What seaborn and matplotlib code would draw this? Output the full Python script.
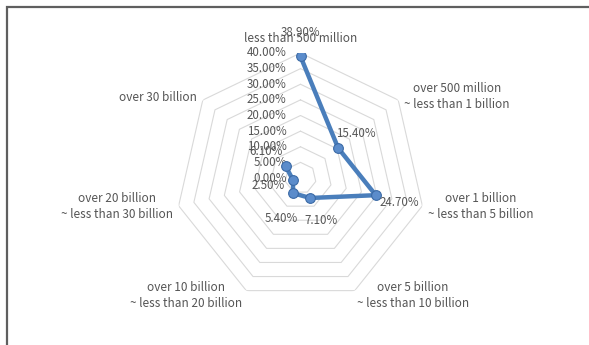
import numpy as np
import pandas as pd
import matplotlib
matplotlib.use("Agg")
import matplotlib.pyplot as plt
import seaborn as sns

# Data
categories = ["less than 500 million",
              "over 500 million\n~ less than 1 billion",
              "over 1 billion\n~ less than 5 billion",
              "over 5 billion\n~ less than 10 billion",
              "over 10 billion\n~ less than 20 billion",
              "over 20 billion\n~ less than 30 billion",
              "over 30 billion"]
shares = [38.9, 15.4, 24.7, 7.1, 5.4, 2.5, 6.1]
ring_levels = [0, 5, 10, 15, 20, 25, 30, 35, 40]

sns.set_theme(style="white")
plt.rcParams["font.family"] = ["Noto Sans CJK KR", "DejaVu Sans"]
text_color = "#555555"
line_color = "#4A7EBB"

n = len(categories)
angles = np.arange(n) * 2 * np.pi / n
df = pd.DataFrame({"angle": np.append(angles, angles[0]),
                   "share": shares + [shares[0]]})

fig = plt.figure(figsize=(5.89, 3.45), dpi=100)
# outer frame (only top and left edges show in the crop)
fig.patches.append(plt.Rectangle((6.5 / 589, -0.1), 1.2, 1.1 - 6.5 / 345,
                                 transform=fig.transFigure, fill=False,
                                 edgecolor="#5f5f5f", linewidth=1.6))

cx, cy, R = 300.5 / 589, (345 - 178) / 345, 125
ax = fig.add_axes([cx - R / 589, cy - R / 345, 2 * R / 589, 2 * R / 345],
                  projection="polar")
ax.set_theta_offset(np.pi / 2)
ax.set_theta_direction(-1)
ax.set_ylim(0, 40)
ax.grid(False)
ax.spines["polar"].set_visible(False)
ax.set_xticks([])
ax.set_yticks([])
ax.patch.set_alpha(0)

# polygon grid rings
closed = np.append(angles, angles[0])
for lv in ring_levels[1:]:
    ax.plot(closed, [lv] * (n + 1), color="#D9D9D9", lw=0.8, zorder=1)

sns.lineplot(data=df, x="angle", y="share", sort=False, ax=ax,
             color=line_color, linewidth=3.2, marker="o", markersize=7,
             markerfacecolor="#5B8CCB", markeredgecolor="#3B6AA6",
             markeredgewidth=0.8, zorder=3)
ax.set_xlabel("")
ax.set_ylabel("")

# radial tick labels
for lv in ring_levels:
    ax.annotate(f"{lv:.2f}%", (0, lv), xytext=(-14, 0), textcoords="offset pixels",
                ha="right", va="center", fontsize=8.3, color=text_color, zorder=2)

# category labels
cat_pos = [((0, 15), "center"), ((6, 4), "left"), ((6, -1), "left"),
           ((2, -5), "left"), ((-4, -5), "right"), ((-6, -1), "right"),
           ((-6, 3), "right")]
for a, lab, (off, ha) in zip(angles, categories, cat_pos):
    ax.annotate(lab, (a, 40), xytext=off, textcoords="offset pixels",
                ha=ha, va="center", multialignment="center", linespacing=1.3,
                fontsize=8.5, color=text_color, annotation_clip=False)

# data labels
val_pos = [((0, 24), "center"), ((-2, 14), "left"), ((4, -7), "left"),
           ((11, -23), "center"), ((-12, -25), "center"), ((-25, -6), "center"),
           ((-20, 15), "center")]
for a, v, (off, ha) in zip(angles, shares, val_pos):
    ax.annotate(f"{v:.2f}%", (a, v), xytext=off, textcoords="offset pixels",
                ha=ha, va="center", fontsize=8.3, color=text_color, zorder=4,
                annotation_clip=False)

fig.savefig("out.png", dpi=100, facecolor="white")
